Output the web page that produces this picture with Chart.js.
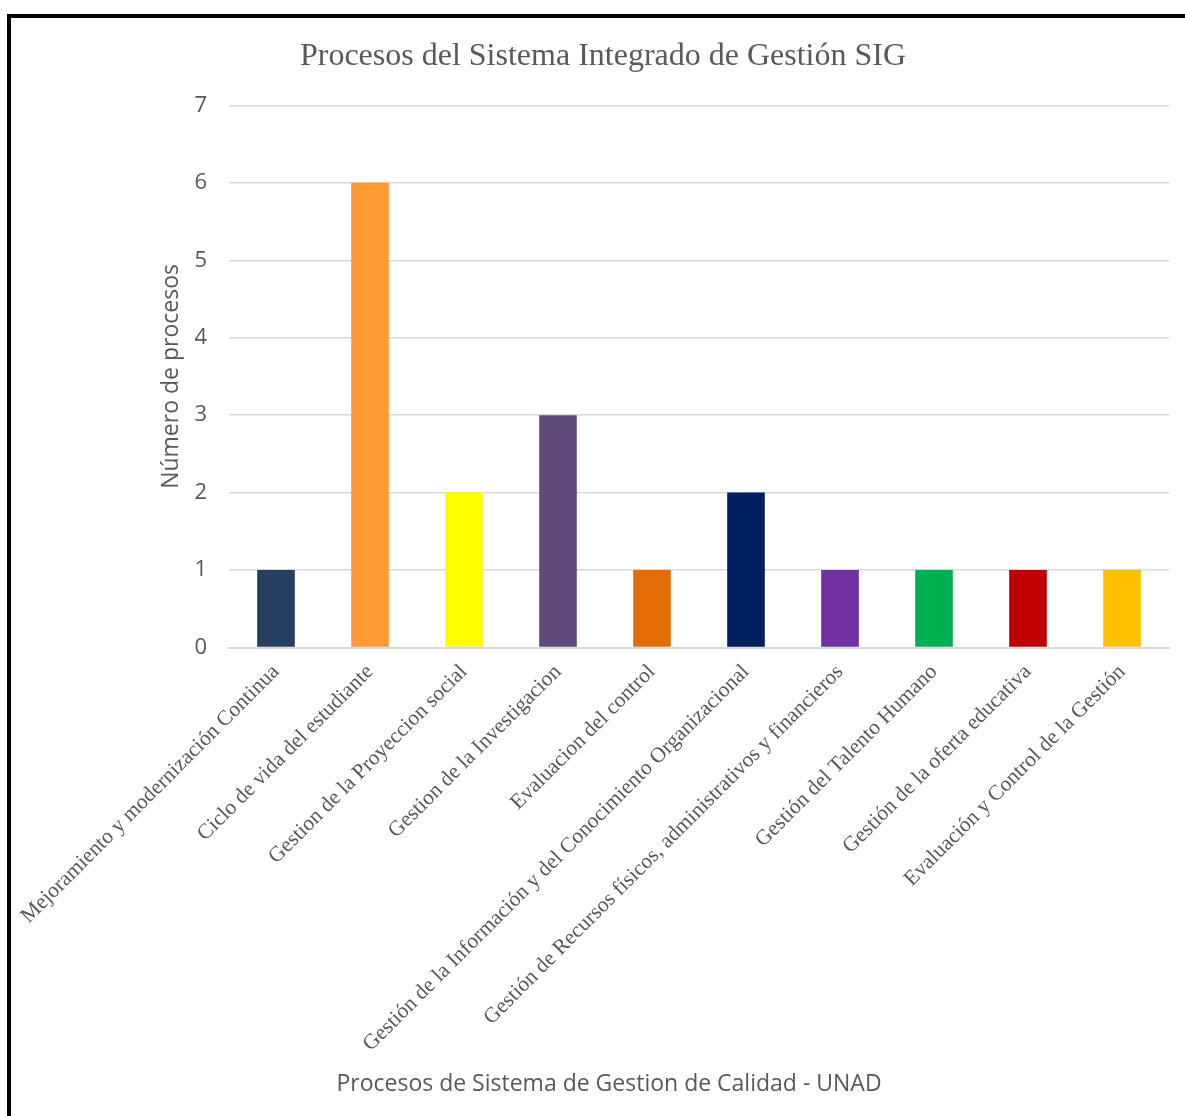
<!DOCTYPE html>
<html>
<head>
<meta charset="utf-8">
<script src="https://cdn.jsdelivr.net/npm/chart.js@4"></script>
<style>
    body { margin: 0; background: #fff; }
    #frame {
        position: absolute; left: 7px; top: 14px;
        width: 1300px; height: 1300px;
        border: 4px solid #000;
    }
    #wrap { position: absolute; left: 0; top: 0; width: 1185px; height: 1116px; }
</style>
</head>
<body>
<div id="frame"></div>
<div id="wrap"><canvas id="chart"></canvas></div>
<script>
// Procesos del SIG - datos
const categorias = [
    'Mejoramiento y modernización Continua',
    'Ciclo de vida del estudiante',
    'Gestion de la Proyeccion social',
    'Gestion de la Investigacion',
    'Evaluacion del control',
    'Gestión de la Información y del Conocimiento Organizacional',
    'Gestión de Recursos físicos, administrativos y financieros',
    'Gestión del Talento Humano',
    'Gestión de la oferta educativa',
    'Evaluación y Control de la Gestión'
];
const numeroProcesos = [1, 6, 2, 3, 1, 2, 1, 1, 1, 1];
const coloresBarras = [
    '#243F60', '#FF9933', '#FFFF00', '#604A7B', '#E36C09',
    '#002060', '#7030A0', '#00B050', '#C00000', '#FFC000'
];
const tituloEjeX = 'Procesos de Sistema de Gestion de Calidad - UNAD';

const gris = '#595959';

// Titulo del eje X: en el original no esta centrado bajo el area del grafico
const tituloX = {
    id: 'tituloX',
    afterDraw(chart) {
        const ctx = chart.ctx;
        ctx.save();
        ctx.fillStyle = gris;
        ctx.font = "23px 'Open Sans', sans-serif";
        ctx.textAlign = 'center';
        ctx.textBaseline = 'middle';
        ctx.fillText(tituloEjeX, 609, 1084);
        ctx.restore();
    }
};

new Chart(document.getElementById('chart'), {
    type: 'bar',
    data: {
        labels: categorias,
        datasets: [{
            data: numeroProcesos,
            backgroundColor: coloresBarras,
            categoryPercentage: 1,
            barPercentage: 0.4
        }]
    },
    options: {
        responsive: true,
        maintainAspectRatio: false,
        animation: false,
        layout: { autoPadding: false, padding: { left: 37, right: 16, top: 22, bottom: 47 } },
        plugins: {
            legend: { display: false },
            tooltip: { enabled: false },
            title: {
                display: true,
                text: 'Procesos del Sistema Integrado de Gestión SIG',
                color: gris,
                font: { family: "'Liberation Serif', serif", size: 32, weight: 'normal' },
                padding: { top: 15, bottom: 30 }
            }
        },
        scales: {
            x: {
                grid: { display: false, drawTicks: false },
                border: { color: '#D9D9D9', width: 2 },
                ticks: {
                    color: gris,
                    minRotation: 45,
                    maxRotation: 45,
                    autoSkip: false,
                    padding: 12,
                    labelOffset: 0,
                    font: { family: "'Liberation Serif', serif", size: 21.5 }
                }
            },
            y: {
                min: 0,
                max: 7,
                // ancho fijo del eje para que el area del grafico empiece donde en el original
                afterFit: scale => { scale.width = 192; },
                ticks: {
                    stepSize: 1,
                    color: gris,
                    padding: 22,
                    font: { family: "'Open Sans', sans-serif", size: 22 }
                },
                grid: { color: '#D9D9D9', lineWidth: 1.5, drawTicks: false },
                border: { display: false },
                title: {
                    display: true,
                    text: 'Número de procesos',
                    color: gris,
                    font: { family: "'Open Sans', sans-serif", size: 23 },
                    padding: { top: 121, bottom: 0 }
                }
            }
        }
    },
    plugins: [tituloX]
});
</script>
</body>
</html>
